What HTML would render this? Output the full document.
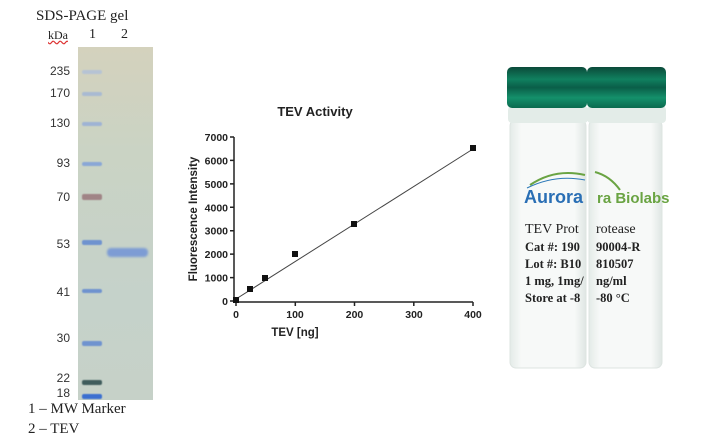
<!DOCTYPE html>
<html><head><style>
body{margin:0;background:#fff;width:708px;height:446px;overflow:hidden;position:relative;font-family:"Liberation Serif",serif}
.a{position:absolute;white-space:nowrap}
.mk{position:absolute;font-family:"Liberation Sans",sans-serif;font-size:12px;color:#333;right:638px;text-align:right}
.b{position:absolute;left:82px;width:20px;height:4px;border-radius:2px;background:#6f93cf;filter:blur(0.6px)}
</style></head><body>
<div class="a" style="left:36px;top:8px;font-size:15px;color:#222">SDS-PAGE gel</div>
<div class="a" style="left:48px;top:28px;font-size:12px;color:#222;text-decoration:underline wavy #d33">kDa</div>
<div class="a" style="left:89px;top:27px;font-size:14px;color:#222">1</div>
<div class="a" style="left:121px;top:27px;font-size:14px;color:#222">2</div>
<div class="a" style="left:78px;top:47px;width:75px;height:353px;background:linear-gradient(#d4d2bd,#cad3c4 30%,#c5d2ca 70%,#c6d1c8)"></div>
<div class="mk" style="top:64px">235</div><div class="mk" style="top:86px">170</div>
<div class="mk" style="top:116px">130</div><div class="mk" style="top:156px">93</div>
<div class="mk" style="top:190px">70</div><div class="mk" style="top:237px">53</div>
<div class="mk" style="top:285px">41</div><div class="mk" style="top:331px">30</div>
<div class="mk" style="top:371px">22</div><div class="mk" style="top:386px">18</div>
<div class="b" style="top:70px;background:#b6c3d4"></div>
<div class="b" style="top:92px;background:#a9bad2"></div>
<div class="b" style="top:122px;background:#9fb3d4"></div>
<div class="b" style="top:162px;background:#8aa7d6"></div>
<div class="b" style="top:194px;height:6px;background:#a08486"></div>
<div class="b" style="top:240px;height:5px"></div>
<div class="b" style="top:289px"></div>
<div class="b" style="top:341px;height:5px"></div>
<div class="b" style="top:380px;height:5px;background:#3f5c5c"></div>
<div class="b" style="top:394px;height:5px;background:#3b6fd0"></div>
<div style="position:absolute;left:107px;top:248px;width:41px;height:9px;border-radius:4px;background:#7d9cd4;filter:blur(1px)"></div>
<div class="a" style="left:28px;top:401px;font-size:15px;color:#222">1 – MW Marker</div>
<div class="a" style="left:28px;top:421px;font-size:15px;color:#222">2 – TEV</div>

<svg style="position:absolute;left:0;top:0" width="708" height="446" font-family="Liberation Sans,sans-serif" font-weight="bold" fill="#222">
<text x="315" y="116" font-size="13" text-anchor="middle">TEV Activity</text>
<g stroke="#222" stroke-width="1.5" fill="none">
<path d="M234,137V302H473"/>
<path d="M230,137h4M230,160.4h4M230,183.9h4M230,207.3h4M230,230.7h4M230,254.1h4M230,277.6h4M230,301h4"/>
<path d="M236,302v4M295.3,302v4M354.5,302v4M413.8,302v4M473,302v4"/>
</g>
<g font-size="10.5" text-anchor="end">
<text x="228" y="141">7000</text><text x="228" y="164.4">6000</text><text x="228" y="187.9">5000</text>
<text x="228" y="211.3">4000</text><text x="228" y="234.7">3000</text><text x="228" y="258.1">2000</text>
<text x="228" y="281.6">1000</text><text x="228" y="305">0</text></g>
<g font-size="10.5" text-anchor="middle">
<text x="236" y="318">0</text><text x="295" y="318">100</text><text x="354.5" y="318">200</text>
<text x="414" y="318">300</text><text x="473" y="318">400</text></g>
<text x="295" y="336" font-size="11.5" text-anchor="middle">TEV [ng]</text>
<text transform="translate(197,219) rotate(-90)" font-size="11.5" text-anchor="middle">Fluorescence Intensity</text>
<line x1="236" y1="299" x2="473" y2="149" stroke="#444" stroke-width="1"/>
<g fill="#111"><rect x="233" y="297" width="6" height="6"/><rect x="247" y="286" width="6" height="6"/>
<rect x="262" y="275" width="6" height="6"/><rect x="292" y="251" width="6" height="6"/>
<rect x="351" y="221" width="6" height="6"/><rect x="470" y="145" width="6" height="6"/></g>

<defs>
<linearGradient id="cap" x1="0" y1="0" x2="0" y2="1">
<stop offset="0" stop-color="#0b4a3a"/><stop offset=".3" stop-color="#10805f"/><stop offset=".5" stop-color="#0a5e48"/><stop offset=".75" stop-color="#14906b"/><stop offset="1" stop-color="#0b6a4f"/></linearGradient>
<linearGradient id="body" x1="0" y1="0" x2="1" y2="0">
<stop offset="0" stop-color="#e4ebe8"/><stop offset=".15" stop-color="#f7f9f8"/><stop offset=".85" stop-color="#f7f9f8"/><stop offset="1" stop-color="#dfe6e3"/></linearGradient>
</defs>
<rect x="510" y="120" width="76" height="248" rx="6" fill="url(#body)" stroke="#dde4e1"/>
<rect x="589" y="120" width="73" height="248" rx="6" fill="url(#body)" stroke="#dde4e1"/>
<rect x="508" y="106" width="80" height="17" rx="4" fill="#e3ece8"/>
<rect x="587" y="106" width="79" height="17" rx="4" fill="#e3ece8"/>
<rect x="507" y="67" width="80" height="41" rx="5" fill="url(#cap)"/>
<rect x="587" y="67" width="79" height="41" rx="5" fill="url(#cap)"/>
<path d="M530,185 Q555,168 585,175" stroke="#6aa443" stroke-width="2" fill="none"/>
<path d="M595,172 Q610,176 620,190" stroke="#6aa443" stroke-width="2" fill="none"/>
<path d="M527,188 Q555,174 585,180" stroke="#2c79b8" stroke-width="1" fill="none"/>
<text x="524" y="203" font-size="18" fill="#2a6fb5">Aurora</text>
<text x="597" y="203" font-size="15" fill="#6aa443">ra Biolabs</text>
<g font-family="Liberation Serif,serif" font-weight="normal" font-size="14" fill="#222">
<text x="525" y="233">TEV Prot</text><text x="596" y="233">rotease</text>
</g>
<g font-family="Liberation Serif,serif" font-size="12.5" fill="#222">
<text x="525" y="251">Cat #: 190</text><text x="596" y="251">90004-R</text>
<text x="525" y="268">Lot #: B10</text><text x="596" y="268">810507</text>
<text x="525" y="285">1 mg, 1mg/</text><text x="596" y="285">ng/ml</text>
<text x="525" y="302">Store at -8</text><text x="596" y="302">-80 °C</text>
</g>
</svg>
</body></html>
